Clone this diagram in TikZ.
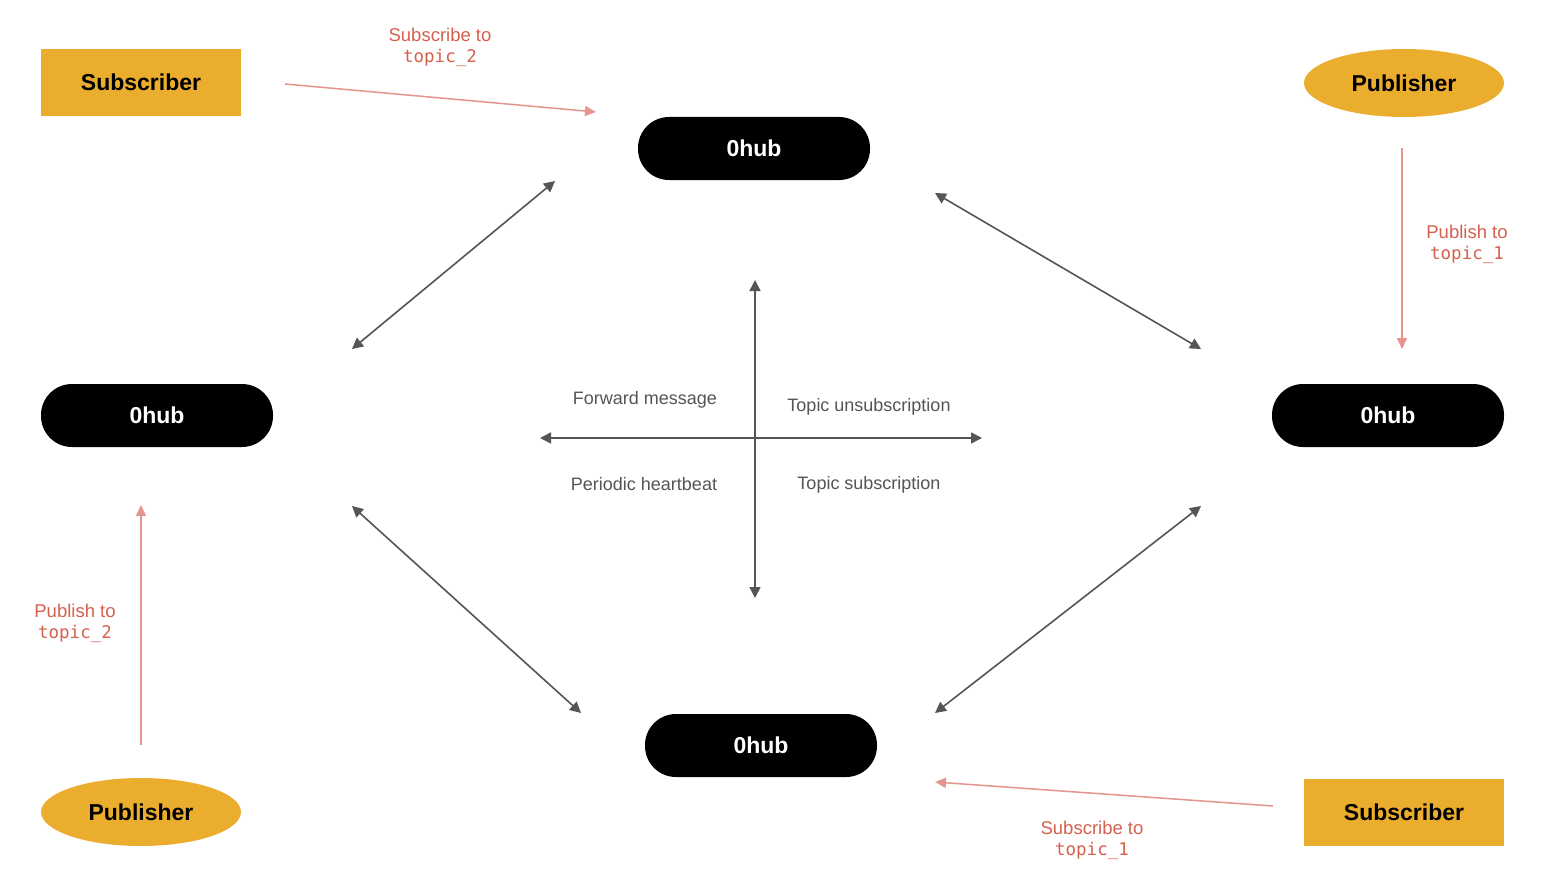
\documentclass[tikz,border=0pt]{standalone}
\usepackage{fontspec}
\setmainfont{Liberation Sans}
\setmonofont{DejaVu Sans Mono}
\usetikzlibrary{arrows.meta,shapes.geometric}
\definecolor{gold}{HTML}{EBAD2E}
\definecolor{redline}{HTML}{E5948E}
\definecolor{redtext}{HTML}{D6604E}
\definecolor{graylink}{HTML}{555555}
\begin{document}
\begin{tikzpicture}[x=1pt,y=-1pt,
  hub/.style={fill=black, rounded corners=31pt, minimum width=232pt, minimum height=63pt, inner sep=0pt,
    text=white, font=\fontsize{23}{27}\selectfont\bfseries},
  subbox/.style={fill=gold, minimum width=200pt, minimum height=67pt, inner sep=0pt,
    font=\fontsize{23}{27}\selectfont\bfseries},
  pubell/.style={ellipse, fill=gold, minimum width=200pt, minimum height=68pt, inner sep=0pt,
    font=\fontsize{23}{27}\selectfont\bfseries},
  redarrow/.style={draw=redline, line width=1.5pt, -{Triangle[length=11pt,width=10pt]}},
  redlabel/.style={text=redtext, align=center, font=\fontsize{18.5}{21}\selectfont, inner sep=0pt},
  redmono/.style={font=\fontsize{17.5}{21}\selectfont\ttfamily},
  grayarrow/.style={draw=graylink, line width=1.6pt, {Triangle[length=11pt,width=11pt]}-{Triangle[length=11pt,width=11pt]}},
  graylabel/.style={text=graylink, font=\fontsize{18}{21}\selectfont, inner sep=0pt}
]
\path[fill=white, use as bounding box] (0,0) rectangle (1557,880);

% hubs
\node[hub] (hubT) at (754,148.5) {0hub};
\node[hub] (hubL) at (157,415.5) {0hub};
\node[hub] (hubR) at (1388,415.5) {0hub};
\node[hub] (hubB) at (761,745.5) {0hub};

% clients
\node[subbox] (subTL) at (141,82.5) {Subscriber};
\node[pubell] (pubTR) at (1404,83) {Publisher};
\node[pubell] (pubBL) at (141,812) {Publisher};
\node[subbox] (subBR) at (1404,812) {Subscriber};

% red connector endpoints
\coordinate (r1a) at (285,84);   \coordinate (r1b) at (596,112);
\coordinate (r2a) at (1402,148); \coordinate (r2b) at (1402,349);
\coordinate (r3a) at (141,745);  \coordinate (r3b) at (141,505);
\coordinate (r4a) at (1273,806); \coordinate (r4b) at (935,782);

\draw[redarrow] (r1a) -- (r1b);
\draw[redarrow] (r2a) -- (r2b);
\draw[redarrow] (r3a) -- (r3b);
\draw[redarrow] (r4a) -- (r4b);

\node[redlabel] (l1) at (440,47) {Subscribe to\\{\fontsize{17.5}{21}\selectfont\ttfamily topic\_2}};
\node[redlabel] (l2) at (1467,244) {Publish to\\{\fontsize{17.5}{21}\selectfont\ttfamily topic\_1}};
\node[redlabel] (l3) at (75,623) {Publish to\\{\fontsize{17.5}{21}\selectfont\ttfamily topic\_2}};
\node[redlabel] (l4) at (1092,840) {Subscribe to\\{\fontsize{17.5}{21}\selectfont\ttfamily topic\_1}};

% gray connector endpoints
\coordinate (g1a) at (555,181);  \coordinate (g1b) at (352,349);
\coordinate (g2a) at (935,193);  \coordinate (g2b) at (1201,349);
\coordinate (g3a) at (352,506);  \coordinate (g3b) at (581,713);
\coordinate (g4a) at (1201,506); \coordinate (g4b) at (935,713);
\coordinate (vT) at (755,280);   \coordinate (vB) at (755,598);
\coordinate (hL) at (540,438);   \coordinate (hR) at (982,438);

\draw[grayarrow] (g1a) -- (g1b);
\draw[grayarrow] (g2a) -- (g2b);
\draw[grayarrow] (g3a) -- (g3b);
\draw[grayarrow] (g4a) -- (g4b);
\draw[grayarrow] (vT) -- (vB);
\draw[grayarrow] (hL) -- (hR);

\node[graylabel] (fm) at (645,400) {Forward message};
\node[graylabel] (tu) at (869,407) {Topic unsubscription};
\node[graylabel] (ph) at (644,484) {Periodic heartbeat};
\node[graylabel] (ts) at (869,485) {Topic subscription};
\end{tikzpicture}
\end{document}
